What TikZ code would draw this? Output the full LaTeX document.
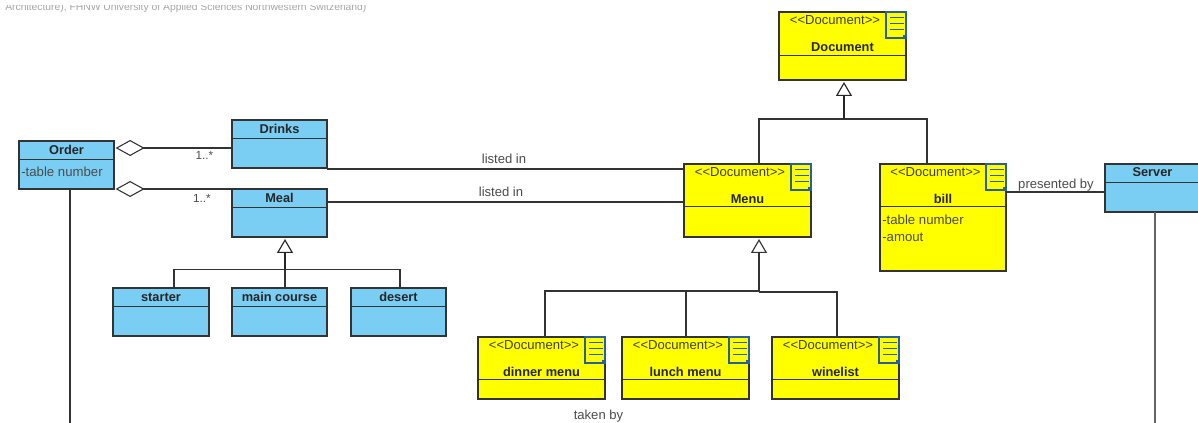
\documentclass[tikz,border=0pt]{standalone}
\usepackage{fontspec}
\setmainfont{Liberation Sans}
\usetikzlibrary{arrows.meta}
\definecolor{umlblue}{HTML}{7ACEF4}
\definecolor{umlyellow}{HTML}{FFFF00}
\definecolor{umlline}{HTML}{333333}
\definecolor{umlicon}{HTML}{2A6099}
\tikzset{
  umlbox/.style={draw=umlline,line width=0.85pt,inner sep=0pt,outer sep=0pt,anchor=center},
  sepline/.style={draw=umlline,line width=0.75pt},
  classname/.style={font=\fontsize{9.6pt}{11pt}\selectfont\bfseries,text=black!85,inner sep=0pt},
  stereo/.style={font=\fontsize{9.8pt}{11pt}\selectfont,text=black!75,inner sep=0pt},
  attr/.style={font=\fontsize{9.9pt}{11pt}\selectfont,text=black!70,inner sep=0pt,anchor=west},
  lbl/.style={font=\fontsize{9.8pt}{11pt}\selectfont,text=black!70,inner sep=0pt},
  mult/.style={font=\fontsize{8.8pt}{10pt}\selectfont,text=black!70,inner sep=0pt},
  faint/.style={font=\fontsize{7.75pt}{9pt}\selectfont,text=black!35,inner sep=0pt,anchor=west},
  link/.style={draw=umlline,line width=0.85pt},
  stem/.style={draw=black!85,line width=1.6pt},
  gentip/.style={-{Triangle[open,fill=white,length=10.5pt,width=12pt,line width=0.85pt]},shorten >=1.5pt},
  aggtip/.style={{Diamond[open,fill=white,length=21.75pt,width=12pt,line width=0.8pt]}-,shorten <=1.2pt},
  iconbox/.style={draw=umlicon,line width=0.85pt},
  iconline/.style={draw=umlicon,line width=0.9pt}
}
% name, fill, x1, y1, x2, y2, separator y, title y, title
\newcommand{\umlclass}[9]{%
  \node[umlbox,fill=#2,minimum width={(#5-#3)*0.75pt},minimum height={(#6-#4)*0.75pt}] (#1) at ({(#3+#5)/2},{(#4+#6)/2}) {};
  \draw[sepline] (#3,#7) -- (#5,#7);
  \node[classname] (#1-title) at ({(#3+#5)/2},{#8}) {#9};
}
% document class: name, x1, y1, x2, y2, separator y, title
\newcommand{\umldoc}[7]{%
  \umlclass{#1}{umlyellow}{#2}{#3}{#4}{#5}{#6}{#3+35}{#7}
  \node[stereo] (#1-stereo) at ({(#2+#4)/2-7.5},{#3+8}) {<{}<Document>{}>};
  \filldraw[iconbox,fill=umlyellow] ({#4-20},#3) rectangle (#4,{#3+26});
  \fill[umlicon] ({#4-3},{#3+23}) rectangle ({#4+0.5},{#3+26.5});
  \draw[iconline] ({#4-16},{#3+5.5}) -- ({#4-2.5},{#3+5.5}) ({#4-16},{#3+11.5}) -- ({#4-2.5},{#3+11.5}) ({#4-16},{#3+17.5}) -- ({#4-2.5},{#3+17.5});
}
\begin{document}
\begin{tikzpicture}[x=0.75pt,y=-0.75pt]
\useasboundingbox (0,0) rectangle (1198,423);
\clip (0,0) rectangle (1198,423);
\fill[white] (0,0) rectangle (1198,423);

% clipped caption at the top
\begin{scope}
  \clip (0,5.5) rectangle (400,14);
  \node[faint] (caption) at (5,8) {Architecture), FHNW University of Applied Sciences Northwestern Switzerland)};
\end{scope}

\coordinate (orderdown) at (70,423);
\coordinate (serverdown) at (1155,423);

% blue classes
\umlclass{Order}{umlblue}{19}{141}{114}{189}{160}{150}{Order}
\node[attr] (Order-attr) at (21,172) {-table number};
\umlclass{Drinks}{umlblue}{232}{120}{327}{168}{139}{129}{Drinks}
\umlclass{Meal}{umlblue}{232}{189}{327}{237}{208}{198}{Meal}
\umlclass{starter}{umlblue}{113}{288}{209}{336}{307}{297}{starter}
\umlclass{main}{umlblue}{232}{288}{327}{336}{307}{297}{main course}
\umlclass{desert}{umlblue}{351}{288}{446}{336}{307}{297}{desert}
\umlclass{Server}{umlblue}{1105}{164}{1200}{212}{183}{172}{Server}

% yellow document classes
\umldoc{Document}{779}{12}{906}{80}{56}{Document}
\umldoc{Menu}{684}{164}{811}{237}{207}{Menu}
\umldoc{bill}{880}{164}{1006}{271}{207}{bill}
\umldoc{dinner}{478}{337}{605}{399}{380}{dinner menu}
\umldoc{lunch}{622}{337}{749}{399}{380}{lunch menu}
\umldoc{winelist}{772}{337}{899}{399}{380}{winelist}
\node[attr] (bill-attr1) at (882,220) {-table number};
\node[attr] (bill-attr2) at (882,237) {-amout};

% vertical lines leaving the page
\draw[link] (Order.south -| orderdown) -- (orderdown);
\draw[link,draw=black!60] (Server.south -| serverdown) -- (serverdown);

% aggregations
\draw[link,aggtip] (Order.east |- 0,148) -- (Drinks.west |- 0,148);
\draw[link,aggtip] (Order.south east) -- (Meal.north west);
\node[mult] (mult1) at (204.5,155) {1..*};
\node[mult] (mult2) at (202,198) {1..*};

% associations
\draw[link] (Drinks.east |- 0,169) -- (Menu.west |- 0,169);
\draw[link] (Meal.east |- 0,202) -- (Menu.west |- 0,202);
\draw[link] (bill.east |- 0,192) -- (Server.west |- 0,192);
\node[lbl] (listed1) at (504,159) {listed in};
\node[lbl] (listed2) at (501,192) {listed in};
\node[lbl] (presented) at (1056,185) {presented by};
\node[lbl] (taken) at (598.5,416) {taken by};

% generalization: Menu, bill -> Document
\coordinate (docjoin) at (844,119);
\draw[link] (Menu.north -| 759,0) |- (docjoin) -| (bill.north -| 927,0);
\draw[stem,gentip] (docjoin) -- (Document.south -| docjoin);

% generalization: dinner, lunch, winelist -> Menu
\coordinate (menujoin) at (759,291);
\coordinate (menujoinb) at (759,292);
\draw[link] (dinner.north -| 545,0) |- (menujoin);
\draw[link] (menujoinb) -| (winelist.north -| 837,0);
\draw[link] (lunch.north -| 686,0) -- (686,291);
\draw[link,gentip] (menujoinb) -- (Menu.south -| menujoin);

% generalization: starter, main course, desert -> Meal
\coordinate (mealjoin) at (285,269.5);
\draw[link] (starter.north -| 174,0) |- (mealjoin) -| (desert.north -| 400,0);
\draw[link] (main.north -| mealjoin) -- (mealjoin);
\draw[stem,gentip] (mealjoin) -- (Meal.south -| mealjoin);
\end{tikzpicture}
\end{document}
